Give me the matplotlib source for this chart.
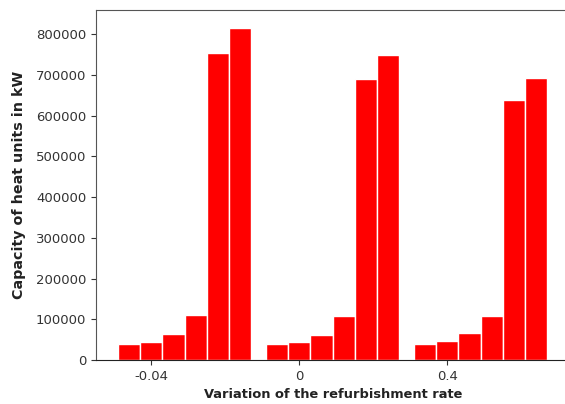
import numpy as np
import matplotlib
matplotlib.use("Agg")
import matplotlib.pyplot as plt

groups = ["-0.04", "0", "0.4"]
series = [
    [39000, 39000, 39000],
    [44000, 44000, 47000],
    [64000, 61000, 66000],
    [110000, 107000, 107000],
    [753000, 689000, 638000],
    [816000, 748000, 692000],
]

fig = plt.figure(figsize=(5.65, 4.04), dpi=100)
ax = fig.add_axes([96/565, 44/404, 474/565, 350/404])

x = np.arange(len(groups))
width = 0.15
for i, vals in enumerate(series):
    ax.bar(x + i * width, vals, width, color="#ff0000", edgecolor="white", linewidth=1)

ax.set_xticks(x + width)
ax.set_xticklabels(groups)
ax.set_yticks(np.arange(0, 800001, 100000))
ax.set_xlim(-0.2236, -0.2236 + 474/148)
ax.set_ylim(0, 859000)
ax.tick_params(labelsize=9.5, colors="#333333")
for s in ax.spines.values():
    s.set_color("#555555")
ax.spines["bottom"].set_color("#222222")
ax.set_xlabel("Variation of the refurbishment rate", fontsize=9.4, fontweight="bold", color="#222222")
ax.set_ylabel("Capacity of heat units in kW", fontsize=10.3, fontweight="bold", color="#222222", labelpad=7)
fig.savefig("out.png", dpi=100)
